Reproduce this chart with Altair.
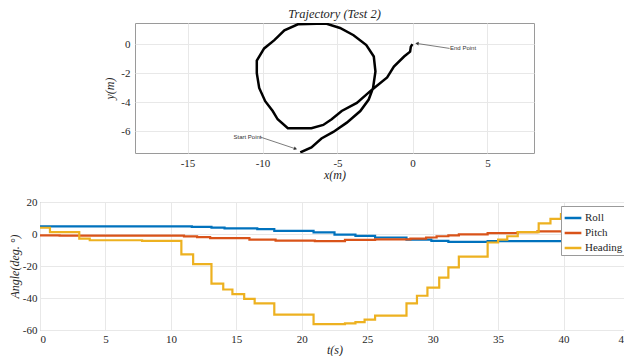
import altair as alt
import pandas as pd

# ---------------- Trajectory data ----------------
traj_x = [-7.48, -6.74, -6.07, -5.28, -4.38, -3.48, -2.92, -2.63, -2.47, -2.58, -3.08,
          -3.93, -4.83, -5.77, -7.64, -8.54, -9.21, -9.89, -10.38, -10.38, -10.22, -9.82,
          -9.32, -8.99, -8.31, -6.74, -5.95, -5.39, -4.72, -3.71, -2.70, -1.69, -1.24,
          -0.56, -0.16, -0.11, 0.0]
traj_y = [-7.46, -7.11, -6.50, -6.05, -5.41, -4.61, -3.82, -3.02, -1.89, -0.86, -0.07,
          0.61, 1.11, 1.41, 1.36, 0.95, 0.27, -0.30, -1.14, -2.00, -3.02, -3.93,
          -4.61, -5.18, -5.80, -5.80, -5.57, -5.18, -4.61, -4.05, -3.14, -2.30, -1.55,
          -0.86, -0.52, -0.18, 0.0]

ann_labels = ["Start Point", "End Point"]
ann_text_x = [-11.0, 3.37]
ann_text_y = [-6.39, -0.30]
arrow_x1 = [-10.15, 2.47]
arrow_y1 = [-6.40, -0.30]
arrow_x2 = [-7.80, 0.30]
arrow_y2 = [-7.21, 0.04]
arrow_angle = [110, 276]

x_ticks_top = [-15, -10, -5, 0, 5]
y_ticks_top = [-6, -4, -2, 0]

# ---------------- Angle data ----------------
roll_t = [0, 11.6, 13.1, 14.1, 16.6, 17.9, 20.9, 22.5, 24.1, 25.6, 28.0, 29.9, 31.2, 34.2, 40.9]
roll_v = [4.8, 4.4, 4.0, 3.5, 3.0, 2.0, 1.0, -0.4, -1.2, -2.2, -3.5, -4.3, -4.9, -4.5, -4.5]

pitch_t = [0, 1.5, 11.0, 12.0, 13.0, 16.0, 18.0, 21.0, 23.3, 25.6, 28.3, 29.5, 30.3,
           31.2, 32.0, 34.2, 36.5, 38.0, 40.7]
pitch_v = [-0.8, -1.0, -1.5, -2.0, -2.6, -3.5, -4.2, -4.5, -3.7, -3.3, -2.9, -2.2, -1.4,
           -0.8, -0.2, 0.6, 1.2, 1.6, 1.6]

hdg_t = [0, 0.76, 3.0, 3.8, 7.8, 10.8, 11.7, 13.1, 14.0, 14.7, 15.6, 16.4, 17.9, 20.9,
         23.3, 24.1, 24.8, 25.6, 28.0, 28.8, 29.6, 30.5, 31.2, 32.0, 34.2, 35.0, 35.7,
         36.5, 38.1, 39.0, 39.8, 40.5, 40.7]
hdg_v = [3.9, 1.2, -2.9, -3.9, -4.3, -12.7, -18.8, -31.0, -34.7, -37.6, -40.6, -43.3,
         -50.4, -56.3, -55.9, -55.1, -53.5, -51.0, -43.3, -38.6, -33.5, -27.3, -20.8,
         -14.1, -5.3, -3.5, -1.4, 1.2, 6.7, 9.4, 12.4, 15.1, 15.1]

series_names = ["Roll", "Pitch", "Heading"]
series_colors = ["#0072BD", "#D95319", "#EDB120"]
x_ticks_bot = [0, 5, 10, 15, 20, 25, 30, 35, 40, 45]
y_ticks_bot = [-60, -40, -20, 0, 20]

SERIF = "Liberation Serif"
LABEL_COLOR = "#262626"

traj = pd.DataFrame({"i": list(range(len(traj_x))), "x": traj_x, "y": traj_y})
ann = pd.DataFrame({"label": ann_labels, "tx": ann_text_x, "ty": ann_text_y,
                    "x1": arrow_x1, "y1": arrow_y1, "x2": arrow_x2, "y2": arrow_y2,
                    "ang": arrow_angle})

rows = []
for name, ts, vs in [("Roll", roll_t, roll_v), ("Pitch", pitch_t, pitch_v),
                     ("Heading", hdg_t, hdg_v)]:
    for k, (t, v) in enumerate(zip(ts, vs)):
        rows.append({"series": name, "t": t, "v": v, "k": k})
ang_df = pd.DataFrame(rows)

xs = alt.Scale(domain=[-18.5, 8.1], nice=False, zero=False)
ys = alt.Scale(domain=[-7.5, 1.45], nice=False, zero=False)

axis_common = dict(labelFont=SERIF, labelFontSize=11, labelColor=LABEL_COLOR,
                   titleFont=SERIF, titleFontStyle="italic", titleFontWeight="normal",
                   titleFontSize=12, titleColor=LABEL_COLOR, ticks=False, domain=False,
                   gridColor="#e8e8e8", gridWidth=1, labelExpr="datum.value + ''")

x_top = alt.X("x:Q", scale=xs, axis=alt.Axis(values=x_ticks_top, title="x(m)",
                                             labelPadding=4, titlePadding=1, **axis_common))
y_top = alt.Y("y:Q", scale=ys, axis=alt.Axis(values=y_ticks_top, title="y(m)",
                                             labelPadding=5, titlePadding=4, **axis_common))

path = alt.Chart(traj).mark_line(color="black", strokeWidth=2.5, clip=True).encode(
    x=x_top, y=y_top, order="i:Q")

arrows = alt.Chart(ann).mark_rule(color="#444444", strokeWidth=0.7).encode(
    x="x1:Q", y="y1:Q", x2="x2:Q", y2="y2:Q")

heads = alt.Chart(ann).mark_point(shape="triangle-up", filled=True, color="#333333",
                                  size=14, opacity=1).encode(
    x="x2:Q", y="y2:Q", angle=alt.Angle("ang:Q", scale=None))

labels = alt.Chart(ann).mark_text(font="Liberation Sans", fontSize=6, color="#333333",
                                  align="center", baseline="middle").encode(
    x="tx:Q", y="ty:Q", text="label:N")

top = alt.layer(path, arrows, heads, labels).properties(
    width=399, height=130,
    title=alt.TitleParams("Trajectory (Test 2)", font=SERIF, fontStyle="italic",
                          fontWeight="normal", fontSize=12.5, color=LABEL_COLOR, offset=3))

x_bot = alt.X("t:Q", scale=alt.Scale(domain=[0, 45], nice=False),
              axis=alt.Axis(values=x_ticks_bot, title="t(s)", labelPadding=3,
                            titlePadding=0, **axis_common))
y_bot = alt.Y("v:Q", scale=alt.Scale(domain=[-60, 20], nice=False),
              axis=alt.Axis(values=y_ticks_bot, title="Angle(deg. °)", labelPadding=3,
                            titlePadding=1, **axis_common))

bottom = alt.Chart(ang_df).mark_line(interpolate="step-after", strokeWidth=2.2).encode(
    x=x_bot, y=y_bot,
    color=alt.Color("series:N",
                    scale=alt.Scale(domain=series_names, range=series_colors),
                    sort=series_names,
                    legend=alt.Legend(title=None, orient="top-right", offset=4,
                                      symbolType="stroke", symbolSize=280,
                                      symbolStrokeWidth=2.5, labelFont=SERIF,
                                      labelFontSize=11, labelColor=LABEL_COLOR,
                                      fillColor="white", strokeColor="#9a9a9a",
                                      padding=2, rowPadding=0, labelOffset=2,
                                      cornerRadius=0)),
    order="k:Q").properties(width=589, height=128)

chart = alt.vconcat(top, bottom, center=True, bounds="flush", spacing=49).resolve_legend(
    color="independent").configure_view(
    stroke="#9a9a9a", strokeWidth=1).properties(
    padding={"left": -1, "top": -1, "right": -6, "bottom": 0})

chart.save("out.html", embed_options={"renderer": "svg", "actions": False})
